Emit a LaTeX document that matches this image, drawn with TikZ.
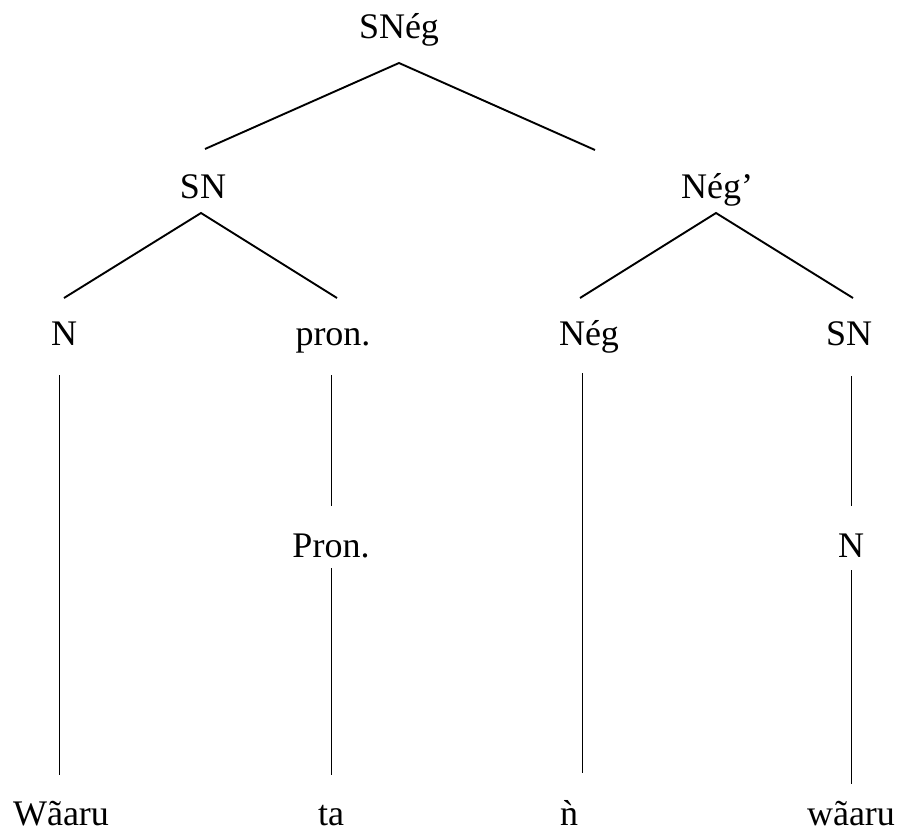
\documentclass[tikz,border=0pt]{standalone}
\usepackage{fontspec}
\setmainfont{Liberation Serif}
\begin{document}
\begin{tikzpicture}[x=1pt,y=-1pt,
  lbl/.style={font=\fontsize{36}{40}\selectfont, anchor=base, inner sep=0pt},
  br/.style={line width=1.9pt},
  vl/.style={line width=0.9pt}]
\useasboundingbox (0,0) rectangle (902,832);
% labels
\node[lbl] (sneg) at (399,39) {SNég};
\node[lbl] (sn1) at (203,198) {SN};
\node[lbl] (negp) at (717,198) {Nég’};
\node[lbl] (n1) at (64,345) {N};
\node[lbl] (pron) at (333,345) {pron.};
\node[lbl] (neg) at (589,345) {Nég};
\node[lbl] (sn2) at (849,345) {SN};
\node[lbl] (Pron) at (331,557) {Pron.};
\node[lbl] (n2) at (851,557) {N};
\node[lbl] (w1) at (61,825) {Wãaru};
\node[lbl] (ta) at (331,825) {ta};
\node[lbl] (nn) at (569,825) {ǹ};
\node[lbl] (w2) at (851,825) {wãaru};
% connector ends
\coordinate (sneg-b) at (399,63);
\coordinate (sn1-t) at (205,149);
\coordinate (negp-t) at (595,150);
\coordinate (sn1-b) at (201,213);
\coordinate (negp-b) at (716,213);
\coordinate (n1-t) at (64,298);
\coordinate (pron-t) at (337,298);
\coordinate (neg-t) at (580,298);
\coordinate (sn2-t) at (853,298);
\coordinate (n1-b) at (59,375);
\coordinate (w1-t) at (59,775);
\coordinate (pron-b) at (331,375);
\coordinate (Pron-t) at (331,506);
\coordinate (Pron-b) at (331,568);
\coordinate (ta-t) at (331,775);
\coordinate (neg-b) at (582,373);
\coordinate (nn-t) at (582,773);
\coordinate (sn2-b) at (851,376);
\coordinate (n2-t) at (851,506);
\coordinate (n2-b) at (851,570);
\coordinate (w2-t) at (851,784);
% branches
\draw[br] (sn1-t) -- (sneg-b) -- (negp-t);
\draw[br] (n1-t) -- (sn1-b) -- (pron-t);
\draw[br] (neg-t) -- (negp-b) -- (sn2-t);
\draw[vl] (n1-b) -- (w1-t);
\draw[vl] (pron-b) -- (Pron-t);
\draw[vl] (Pron-b) -- (ta-t);
\draw[vl] (neg-b) -- (nn-t);
\draw[vl] (sn2-b) -- (n2-t);
\draw[vl] (n2-b) -- (w2-t);
\end{tikzpicture}
\end{document}
